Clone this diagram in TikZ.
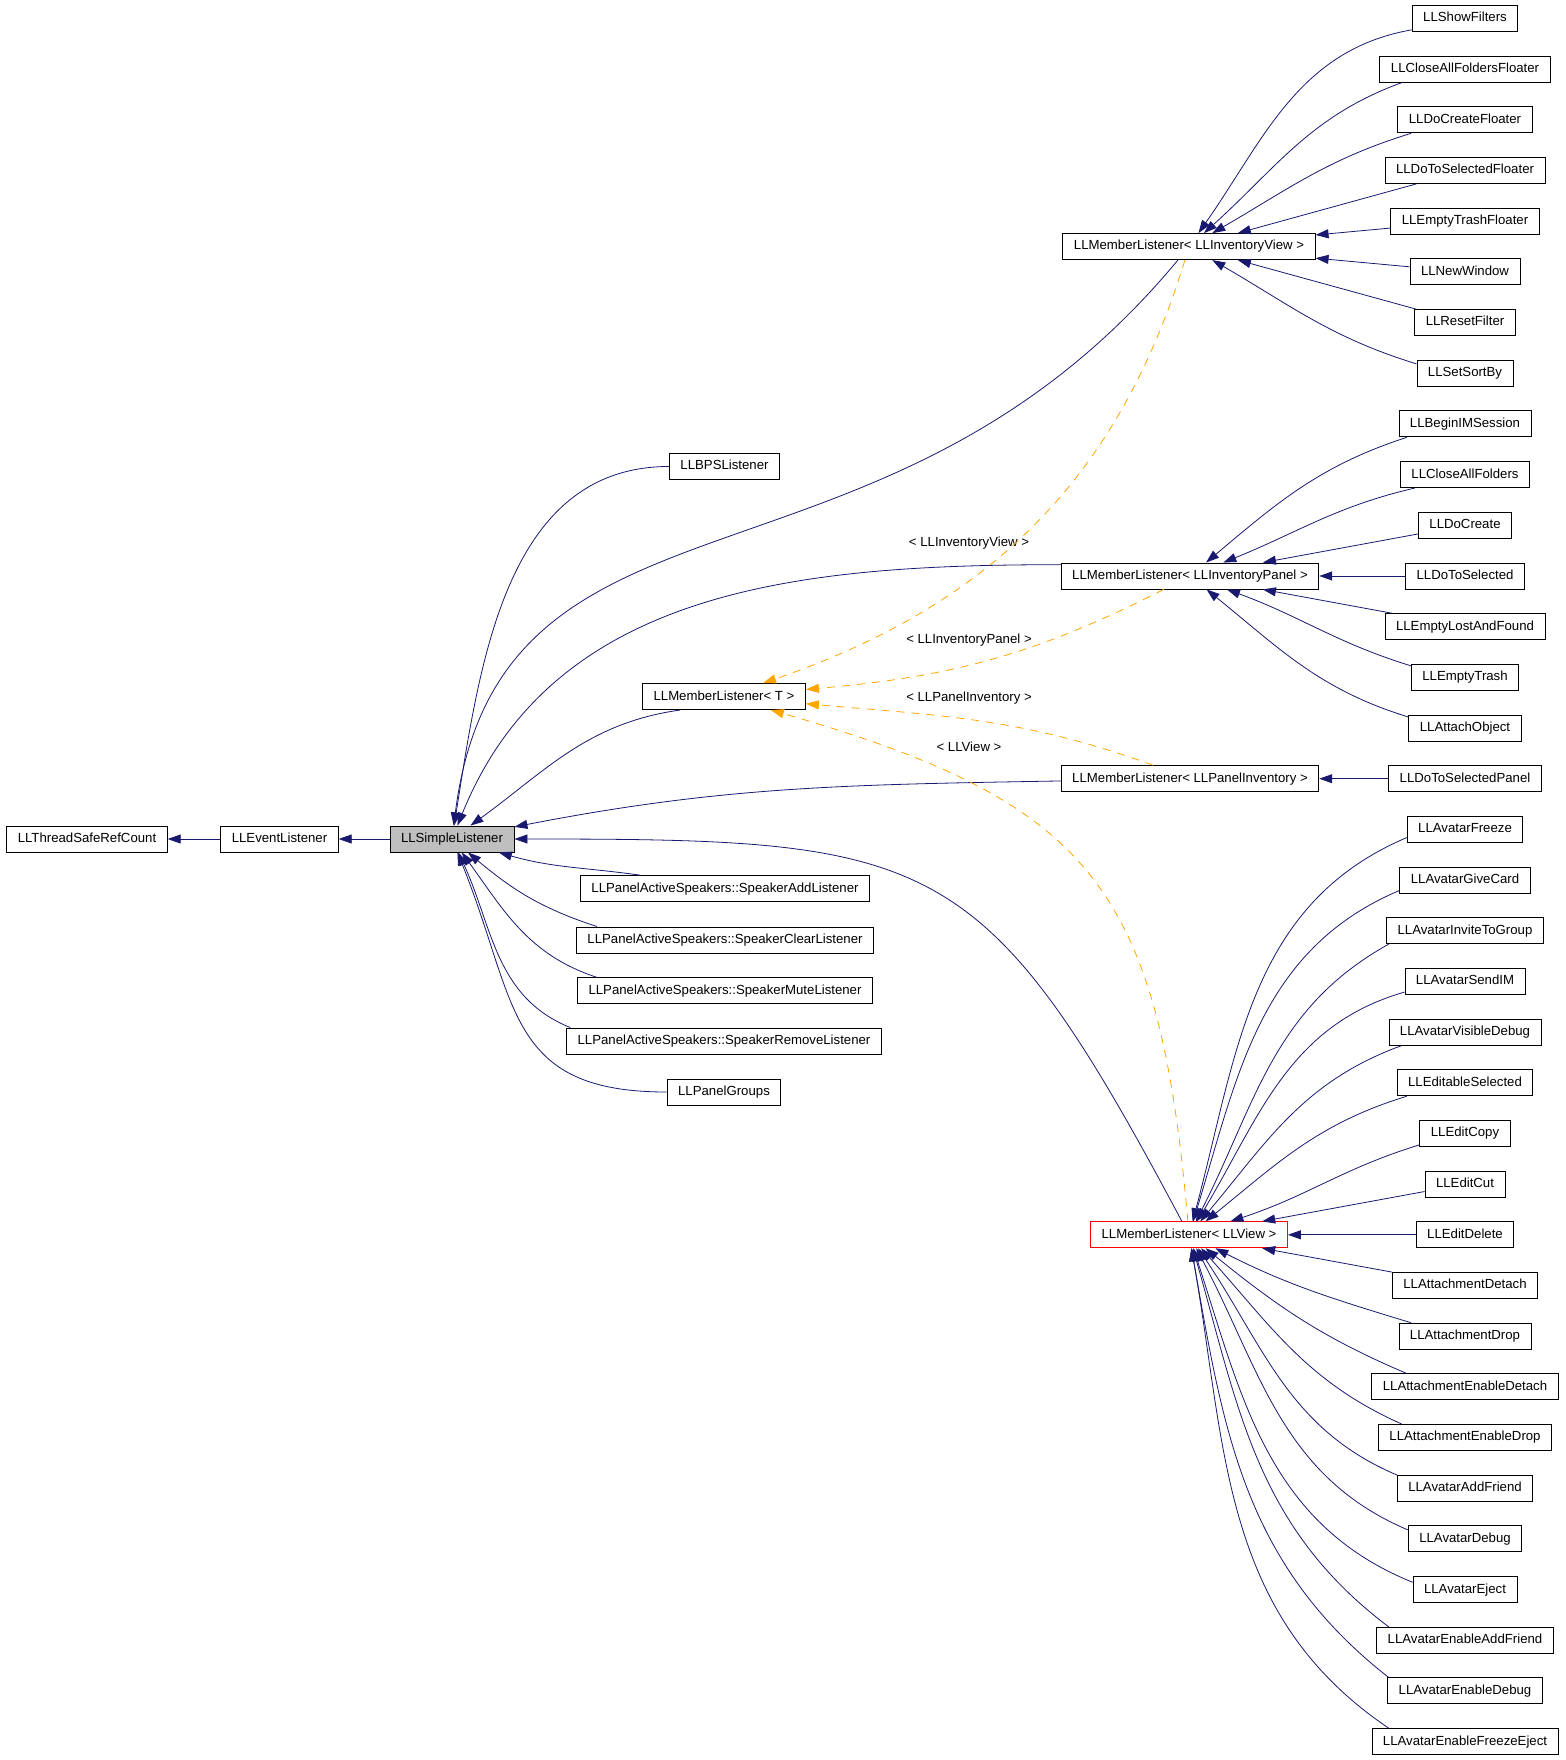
\documentclass[tikz,border=0pt]{standalone}
\usepackage{fontspec}
\setmainfont{Liberation Sans}
\usetikzlibrary{arrows.meta}

\definecolor{edgeblue}{HTML}{191970}
\definecolor{tplorange}{HTML}{FFA500}
\definecolor{basegray}{HTML}{BFBFBF}

\begin{document}
\begin{tikzpicture}[
  x=1pt, y=1pt,
  cls/.style   = {draw, line width=0.9pt, inner xsep=11pt, inner ysep=0pt,
                  minimum height=26pt, text height=9.6pt, text depth=2.8pt,
                  font=\fontsize{13.2}{15}\selectfont},
  focus/.style = {cls, fill=basegray},   % the class the graph is drawn for
  trunc/.style = {cls, draw=red},        % red frame: not all of its children are shown
  edge/.style  = {draw=edgeblue, line width=0.8pt,
                  -{Triangle[length=13pt,width=9pt]}},
  tedge/.style = {draw=tplorange, line width=0.8pt, dash pattern=on 8pt off 7pt,
                  -{Triangle[length=13pt,width=9pt]}},
                   % a template instance: dashed, orange, named by its argument
  tlbl/.style  = {inner sep=1pt, font=\fontsize{13.2}{15}\selectfont},
]
  \useasboundingbox (0,0) rectangle (1565,-1760);

  % the chain of bases
  \node[cls]   (tsrc)   at (87,-839)    {LLThreadSafeRefCount};
  \node[cls]   (evl)    at (279.5,-839) {LLEventListener};
  \node[focus] (simple) at (452,-839)   {LLSimpleListener};

  % direct children
  \node[cls] (bps)       at (724.5,-466.5) {LLBPSListener};
  \node[cls] (mlT)       at (724,-696.6)   {LLMemberListener< T >};
  \node[cls] (spkadd)    at (725,-888.6)   {LLPanelActiveSpeakers::SpeakerAddListener};
  \node[cls] (spkclear)  at (725,-940)     {LLPanelActiveSpeakers::SpeakerClearListener};
  \node[cls] (spkmute)   at (725,-990.8)   {LLPanelActiveSpeakers::SpeakerMuteListener};
  \node[cls] (spkremove) at (724,-1041)    {LLPanelActiveSpeakers::SpeakerRemoveListener};
  \node[cls] (pgroups)   at (724,-1092)    {LLPanelGroups};

  % the instances of the template
  \node[cls]   (mlview)   at (1189,-246.6)  {LLMemberListener< LLInventoryView >};
  \node[cls]   (mlpanel)  at (1190,-576)    {LLMemberListener< LLInventoryPanel >};
  \node[cls]   (mlpinv)   at (1190,-778.7)  {LLMemberListener< LLPanelInventory >};
  \node[trunc] (mlllview) at (1189,-1234.8) {LLMemberListener< LLView >};

  % leaves, one row each
  \node[cls] (showfilters)       at (1465,-18.5)   {LLShowFilters};
  \node[cls] (closeallfloater)   at (1465,-69.2)   {LLCloseAllFoldersFloater};
  \node[cls] (docreatefloater)   at (1465,-119.9)  {LLDoCreateFloater};
  \node[cls] (dotoselfloater)    at (1465,-170.5)  {LLDoToSelectedFloater};
  \node[cls] (emptytrashfloater) at (1465,-221.2)  {LLEmptyTrashFloater};
  \node[cls] (newwindow)         at (1465,-271.9)  {LLNewWindow};
  \node[cls] (resetfilter)       at (1465,-322.6)  {LLResetFilter};
  \node[cls] (setsortby)         at (1465,-373.3)  {LLSetSortBy};
  \node[cls] (beginim)           at (1465,-423.9)  {LLBeginIMSession};
  \node[cls] (closeall)          at (1465,-474.6)  {LLCloseAllFolders};
  \node[cls] (docreate)          at (1465,-525.3)  {LLDoCreate};
  \node[cls] (dotosel)           at (1465,-576)    {LLDoToSelected};
  \node[cls] (emptylaf)          at (1465,-626.7)  {LLEmptyLostAndFound};
  \node[cls] (emptytrash)        at (1465,-677.3)  {LLEmptyTrash};
  \node[cls] (attachobj)         at (1465,-728)    {LLAttachObject};
  \node[cls] (dotoselpanel)      at (1465,-778.7)  {LLDoToSelectedPanel};
  \node[cls] (avfreeze)          at (1465,-829.4)  {LLAvatarFreeze};
  \node[cls] (avgivecard)        at (1465,-880.1)  {LLAvatarGiveCard};
  \node[cls] (avinvite)          at (1465,-930.7)  {LLAvatarInviteToGroup};
  \node[cls] (avsendim)          at (1465,-981.4)  {LLAvatarSendIM};
  \node[cls] (avvisdebug)        at (1465,-1032.1) {LLAvatarVisibleDebug};
  \node[cls] (editsel)           at (1465,-1082.8) {LLEditableSelected};
  \node[cls] (editcopy)          at (1465,-1133.5) {LLEditCopy};
  \node[cls] (editcut)           at (1465,-1184.1) {LLEditCut};
  \node[cls] (editdelete)        at (1465,-1234.8) {LLEditDelete};
  \node[cls] (attdetach)         at (1465,-1285.5) {LLAttachmentDetach};
  \node[cls] (attdrop)           at (1465,-1336.2) {LLAttachmentDrop};
  \node[cls] (attendetach)       at (1465,-1386.9) {LLAttachmentEnableDetach};
  \node[cls] (attendrop)         at (1465,-1437.5) {LLAttachmentEnableDrop};
  \node[cls] (avaddfriend)       at (1465,-1488.2) {LLAvatarAddFriend};
  \node[cls] (avdebug)           at (1465,-1538.9) {LLAvatarDebug};
  \node[cls] (aveject)           at (1465,-1589.6) {LLAvatarEject};
  \node[cls] (avenaddfriend)     at (1465,-1640.3) {LLAvatarEnableAddFriend};
  \node[cls] (avendebug)         at (1465,-1690.9) {LLAvatarEnableDebug};
  \node[cls] (avenfreeze)        at (1465,-1741.6) {LLAvatarEnableFreezeEject};

  % template arguments
  \node[tlbl] (lblview)   at (969,-543.4) {< LLInventoryView >};
  \node[tlbl] (lblpanel)  at (969,-640)   {< LLInventoryPanel >};
  \node[tlbl] (lblpinv)   at (969,-698.3) {< LLPanelInventory >};
  \node[tlbl] (lblllview) at (969,-746.6) {< LLView >};

  \draw[edge] (evl) -- (tsrc);
  \draw[edge] (simple) -- (evl);

  % everything that derives from LLSimpleListener
  \draw[edge] (bps) to[out=180,in=81] (simple);
  \draw[edge] (mlview) .. controls +(-309,-373) and +(48,379) .. (simple);
  \draw[edge] (mlpanel.175) to[out=180,in=68] (simple);
  \draw[edge] (mlT.197) to[out=188,in=36] (simple);
  \draw[edge] (mlpinv) to[out=181,in=11] (simple);
  \draw[edge] (mlllview) to[out=118,in=0,looseness=1.4] (simple);
  \draw[edge] (spkadd.171) to[out=172,in=-16] (simple);
  \draw[edge] (spkclear.174) to[out=162,in=-40] (simple);
  \draw[edge] (spkmute.174) to[out=162,in=-54] (simple);
  \draw[edge] (spkremove.175) to[out=158,in=-65] (simple);
  \draw[edge] (pgroups) to[out=180,in=-68,looseness=1.3] (simple);

  % template instances -- dashed, back to LLMemberListener< T >
  \draw[tedge] (mlview) to[out=253,in=19] (mlT);
  \draw[tedge] (mlpanel) to[out=207,in=5] (mlT);
  \draw[tedge] (mlpinv) to[out=160,in=-5] (mlT);
  \draw[tedge] (mlllview) to[out=95,in=-16,looseness=1.3] (mlT);

  % LLMemberListener< LLInventoryView >
  \draw[edge] (showfilters.192) to[out=190,in=55] (mlview);
  \draw[edge] (closeallfloater.192) to[out=200,in=42] (mlview);
  \draw[edge] (docreatefloater.194) to[out=197,in=30] (mlview);
  \draw[edge] (dotoselfloater) -- (mlview);
  \draw[edge] (emptytrashfloater) -- (mlview);
  \draw[edge] (newwindow) -- (mlview);
  \draw[edge] (resetfilter) -- (mlview);
  \draw[edge] (setsortby.169) to[out=163,in=-30] (mlview);

  % LLMemberListener< LLInventoryPanel >
  \draw[edge] (beginim.193) to[out=198,in=40] (mlpanel);
  \draw[edge] (closeall.195) to[out=193,in=22] (mlpanel);
  \draw[edge] (docreate) -- (mlpanel);
  \draw[edge] (dotosel) -- (mlpanel);
  \draw[edge] (emptylaf) -- (mlpanel);
  \draw[edge] (emptytrash.168) to[out=163,in=-20] (mlpanel);
  \draw[edge] (attachobj.169) to[out=163,in=-39] (mlpanel);

  % LLMemberListener< LLPanelInventory >
  \draw[edge] (dotoselpanel) -- (mlpinv);

  % LLMemberListener< LLView >: the long fan
  \draw[edge] (avfreeze.188) to[out=203,in=75] (mlllview);
  \draw[edge] (avgivecard.189) to[out=203,in=73] (mlllview);
  \draw[edge] (avinvite.190) to[out=209,in=63] (mlllview);
  \draw[edge] (avsendim.190) to[out=196,in=59] (mlllview);
  \draw[edge] (avvisdebug.192) to[out=200,in=50] (mlllview);
  \draw[edge] (editsel.193) to[out=197,in=39] (mlllview);
  \draw[edge] (editcopy.194) to[out=197,in=18] (mlllview);
  \draw[edge] (editcut) -- (mlllview);
  \draw[edge] (editdelete) -- (mlllview);
  \draw[edge] (attdetach) -- (mlllview);
  \draw[edge] (attdrop.166) to[out=163,in=-27] (mlllview);
  \draw[edge] (attendetach.167) to[out=157,in=-39] (mlllview);
  \draw[edge] (attendrop.168) to[out=156,in=-48] (mlllview);
  \draw[edge] (avaddfriend.169) to[out=157,in=-56] (mlllview);
  \draw[edge] (avdebug.171) to[out=157,in=-62] (mlllview);
  \draw[edge] (aveject.172) to[out=158,in=-72] (mlllview);
  \draw[edge] (avenaddfriend.170) to[out=143,in=-74] (mlllview);
  \draw[edge] (avendebug.170) to[out=142,in=-80] (mlllview);
  \draw[edge] (avenfreeze.170) to[out=146,in=-80] (mlllview);
\end{tikzpicture}
\end{document}
